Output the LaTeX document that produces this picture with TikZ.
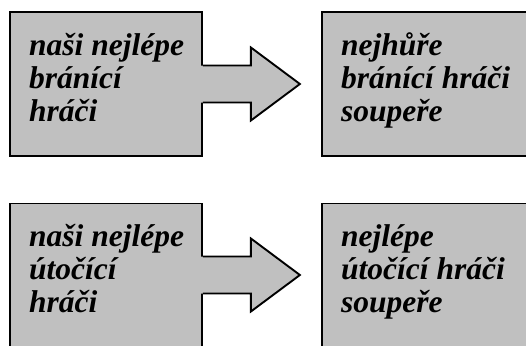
\documentclass[tikz,border=0pt]{standalone}
\usepackage{fontspec}
\setmainfont{Liberation Serif}
\usetikzlibrary{calc}
\definecolor{boxgray}{HTML}{C0C0C0}

% Block arrow leaving the right side of a panel: #1 = panel name
\newcommand\panelarrow[1]{%
  \fill[boxgray] ($(#1.north east)+(-2,54)$) -- ++(50,0) -- ++(0,-18)
    -- ++(49,36.5) -- ++(-49,36.5) -- ++(0,-18) -- ++(-50,0) -- cycle;
  \draw[outline] ($(#1.north east)+(0,54)$) -- ++(48,0) -- ++(0,-18)
    -- ++(49,36.5) coordinate (#1-tip) -- ++(-49,36.5) -- ++(0,-18) -- ++(-48,0);
}

\begin{document}
\begin{tikzpicture}[x=1pt,y=-1pt,
  panel/.style={draw=black, line width=1.9pt, fill=boxgray, rectangle,
    inner sep=0pt, anchor=north west},
  label/.style={anchor=north west, inner sep=0pt, align=left,
    font=\fontsize{31.5}{33}\selectfont\bfseries\itshape},
  outline/.style={draw=black, line width=1.9pt, line join=miter},
]
\useasboundingbox (0,0) rectangle (526,345);
\clip (0,0) rectangle (526,345);

% panels
\node[panel, minimum width=192pt, minimum height=143.5pt] (defL) at (9,11.5) {};
\node[panel, minimum width=230pt, minimum height=143.5pt] (defR) at (321,11.5) {};
\node[panel, minimum width=192pt, minimum height=160pt] (atkL) at (9,202.5) {};
\node[panel, minimum width=230pt, minimum height=160pt] (atkR) at (321,202.5) {};

% arrows between the panels
\panelarrow{defL}
\panelarrow{atkL}

% texts
\node[label] (defLtext) at ($(defL.north west)+(20,19.5)$)
  {\rule{0pt}{24pt}naši nejlépe\\bránící\\hráči};
\node[label] (defRtext) at ($(defR.north west)+(20,19.5)$)
  {\rule{0pt}{24pt}nejhůře\\bránící hráči\\soupeře};
\node[label] (atkLtext) at ($(atkL.north west)+(20,20)$)
  {\rule{0pt}{24pt}naši nejlépe\\útočící\\hráči};
\node[label] (atkRtext) at ($(atkR.north west)+(20,20)$)
  {\rule{0pt}{24pt}nejlépe\\útočící hráči\\soupeře};
\end{tikzpicture}
\end{document}
